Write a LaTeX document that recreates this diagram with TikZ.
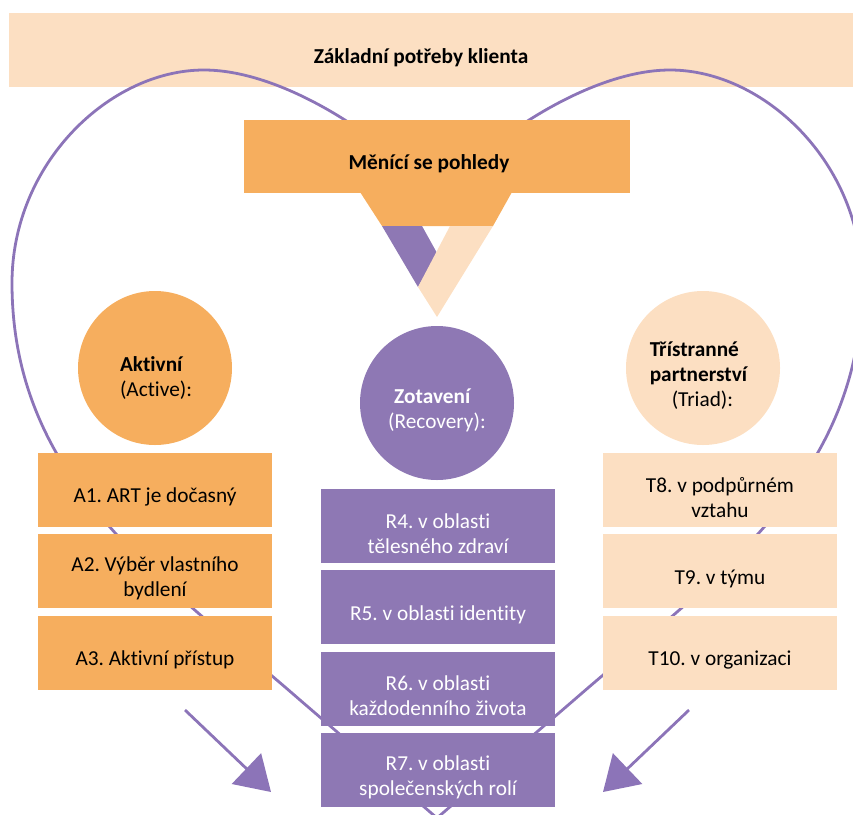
\documentclass[tikz,border=0pt]{standalone}
\usepackage{fontspec}
\setmainfont{Carlito}[Ligatures=NoCommon]
\usetikzlibrary{positioning, arrows.meta}
\usepackage{xcolor}
\definecolor{orangeA}{RGB}{246,174,94}
\definecolor{beigeT}{RGB}{252,223,194}
\definecolor{purpleR}{RGB}{142,120,180}
\definecolor{heartcolor}{RGB}{140,116,184}
\newcommand{\boxfont}{\fontsize{21.3}{25}\selectfont}
\frenchspacing

\begin{document}
\begin{tikzpicture}[x=1pt, y=-1pt]
  \tikzset{
    abox/.style={
      fill=orangeA,
      minimum width=234pt,
      minimum height=74pt,
      inner sep=0pt,
      align=center,
      font=\boxfont,
      execute at begin node={\rule{0pt}{29.5pt}}
    },
    twoline/.style={
      execute at begin node={\rule{0pt}{54.5pt}}
    },
    tbox/.style={
      abox,
      fill=beigeT
    },
    rbox/.style={
      abox,
      fill=purpleR,
      text=white
    },
    circ/.style={
      circle,
      minimum size=154pt,
      inner sep=0pt
    },
    heart/.style={
      draw=heartcolor,
      line width=2.8pt
    },
    bigarrow/.style={
      draw=heartcolor,
      line width=2.8pt,
      -{Triangle[length=34pt,width=42pt]}
    },
    title/.style={
      font=\boxfont\bfseries
    }
  }
  \useasboundingbox (0,0) rectangle (853,814);

  % Draw the top bar
  \node[fill=beigeT, minimum width=846pt, minimum height=74pt, inner sep=0pt] at (432,50) (potreby) {};
  \node[title] at (421,58) (potrebytext) {Základní potřeby klienta};

  % Draw the heart
  \draw[heart] (437,818) -- (300,700)
    .. controls (160,578) and (12,480) .. (12,283)
    .. controls (12,163) and (110,70) .. (204,70)
    .. controls (290,70) and (400,150) .. (437,200)
    .. controls (474,150) and (584,70) .. (670,70)
    .. controls (764,70) and (862,163) .. (862,283)
    .. controls (862,480) and (714,578) .. (574,700) -- cycle;

  % Draw the funnel
  \node[fill=orangeA, minimum width=386pt, minimum height=73pt, inner sep=0pt] at (437,156.5) (pohledy) {};
  \fill[orangeA] (360,192) -- (512,192) -- (493,226) -- (382,226) -- cycle;
  \fill[purpleR] (382,226) -- (422,226) -- (437,253) -- (418,287) -- cycle;
  \fill[beigeT] (450,226) -- (493,226) -- (437,317) -- (418,287) -- cycle;
  \node[title] at (429,164) (pohledytext) {Měnící se pohledy};

  % Draw the circles
  \node[circ, fill=orangeA] at (155,368) (aktivni) {};
  \node[font=\boxfont, align=left] at (156,378) (aktivnitext) {\textbf{Aktivní}\\(Active):};
  \node[circ, fill=purpleR] at (437,403) (zotaveni) {};
  \node[font=\boxfont, align=left, text=white] at (437,410) (zotavenitext) {\hspace*{6pt}\textbf{Zotavení}\\(Recovery):};
  \node[circ, fill=beigeT] at (703,368) (triad) {};
  \node[font=\boxfont, align=left] at (699,376) (triadtext) {\textbf{Třístranné}\\\textbf{partnerství}\\\hspace*{22pt}(Triad):};

  % Draw the boxes
  \node[abox] at (155,490) (a1) {A1. ART je dočasný};
  \node[abox, twoline, below=7pt of a1] (a2) {A2. Výběr vlastního\\bydlení};
  \node[abox, below=7pt of a2] (a3) {A3. Aktivní přístup};

  \node[rbox, twoline] at (438,526) (r4) {R4. v oblasti\\tělesného zdraví};
  \node[rbox, below=7pt of r4] (r5) {R5. v oblasti identity};
  \node[rbox, twoline, below=7pt of r5] (r6) {R6. v oblasti\\každodenního života};
  \node[rbox, twoline, below=7pt of r6] (r7) {R7. v oblasti\\společenských rolí};

  \node[tbox, twoline] at (720,490) (t8) {T8. v podpůrném\\vztahu};
  \node[tbox, below=7pt of t8] (t9) {T9. v týmu};
  \node[tbox, below=7pt of t9] (t10) {T10. v organizaci};

  % Draw the arrows
  \coordinate (leftfrom) at (185,710);
  \coordinate (leftto) at (271,792);
  \coordinate (rightfrom) at (689,710);
  \coordinate (rightto) at (603,792);
  \draw[bigarrow] (leftfrom) -- (leftto);
  \draw[bigarrow] (rightfrom) -- (rightto);
\end{tikzpicture}
\end{document}
